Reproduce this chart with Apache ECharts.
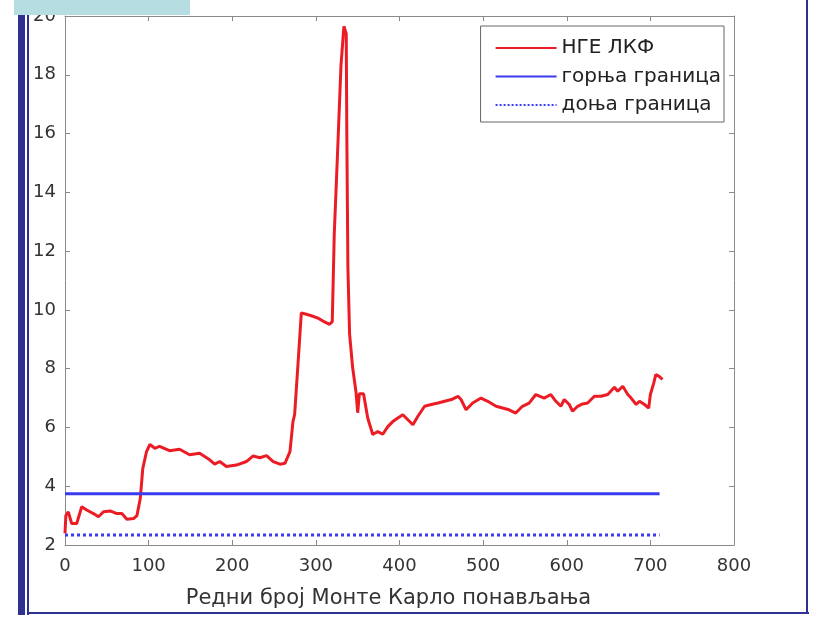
<!DOCTYPE html>
<html>
<head>
<meta charset="utf-8">
<script src="https://cdn.jsdelivr.net/npm/echarts@6/dist/echarts.min.js"></script>
<style>
html,body{margin:0;padding:0;background:#fff;}
#c{width:817px;height:620px;}
</style>
</head>
<body>
<div id="c"></div>
<script>
// ---- data ----
const xTicks = [0,100,200,300,400,500,600,700,800];
const yTicks = [2,4,6,8,10,12,14,16,18,20];
const seriesNames = ['НГЕ ЛКФ', 'горња граница', 'доња граница'];
const xAxisTitle = 'Редни број Монте Карло понављања';

const redX = [0,1,4,8,14,20,26,34,40,46,54,62,68,74,82,86,90,93,97.5,101.5,107.5,113,125,137,149,161,173,179,185,193,205,217,225,233,241,249,257,263,269,272.6,274.6,278.6,282.6,288.6,294.6,302.5,308.5,316.4,319.6,322,326,330,333.5,336.3,337,338.3,340.3,344,348,350,352,357,362,368,374,380,386,392,398,404,410,416,422,430,438,446,454,462,470,473.6,479.6,487.5,497.5,505.5,515.5,523.3,531,539,547,555,563,573,581,587,593,597,603,607,613,619,625,633,641,649,657,661,667,673,677,683,687,693,698,700,704,706.5,710.5,714.5];
const redY = [2.4,3.0,3.13,2.73,2.73,3.3,3.19,3.07,2.96,3.13,3.16,3.07,3.07,2.88,2.9,3.0,3.58,4.6,5.18,5.42,5.29,5.36,5.21,5.26,5.07,5.12,4.9,4.75,4.84,4.67,4.72,4.84,5.03,4.97,5.04,4.84,4.75,4.78,5.18,6.2,6.44,8.15,9.9,9.85,9.8,9.72,9.62,9.51,9.6,12.6,15.4,18.3,19.65,19.4,16.0,11.45,9.18,8.03,7.2,6.5,7.15,7.15,6.32,5.76,5.86,5.77,6.03,6.2,6.32,6.43,6.26,6.09,6.38,6.72,6.78,6.83,6.89,6.95,7.06,6.95,6.6,6.83,7.0,6.89,6.72,6.66,6.6,6.49,6.72,6.83,7.12,7.0,7.12,6.89,6.72,6.95,6.78,6.55,6.72,6.8,6.83,7.06,7.06,7.12,7.37,7.23,7.4,7.12,7.0,6.78,6.89,6.78,6.66,7.12,7.51,7.8,7.74,7.63];

const boundX = [0, 711];
const upperY = [3.74, 3.74];
const lowerY = [2.34, 2.34];

// ---- chart ----
const chart = echarts.init(document.getElementById('c'));
const pairs = (xs, ys) => xs.map((x, i) => [x, ys[i]]);
const axisGray = '#8a8a8a';
const FONT = 'DejaVu Sans, Liberation Sans, Arial, sans-serif';
const labelStyle = {color:'#333', fontSize:18, fontFamily:FONT};

const baseX = {
  type:'value', min:xTicks[0], max:xTicks[xTicks.length-1], interval:100,
  splitLine:{show:false},
  axisLine:{show:true, onZero:false, lineStyle:{color:axisGray, width:1}},
  axisTick:{show:true, inside:true, length:5, lineStyle:{color:axisGray}}
};
const baseY = {
  type:'value', min:yTicks[0], max:yTicks[yTicks.length-1], interval:2,
  splitLine:{show:false},
  axisLine:{show:true, onZero:false, lineStyle:{color:axisGray, width:1}},
  axisTick:{show:true, inside:true, length:5, lineStyle:{color:axisGray}}
};

chart.setOption({
  animation:false,
  backgroundColor:'#fff',
  grid:{left:65, right:83, top:16, bottom:75, show:false},
  xAxis:[
    Object.assign({}, baseX, {
      position:'bottom',
      axisLabel:Object.assign({margin:12}, labelStyle),
      name:xAxisTitle, nameLocation:'middle', nameGap:43,
      nameTextStyle:{color:'#333', fontSize:21, fontFamily:FONT, padding:[0,22,0,0]}
    }),
    Object.assign({}, baseX, {position:'top', axisLabel:{show:false}})
  ],
  yAxis:[
    Object.assign({}, baseY, {position:'left', axisLabel:Object.assign({margin:9}, labelStyle)}),
    Object.assign({}, baseY, {position:'right', axisLabel:{show:false}})
  ],
  legend:{
    orient:'vertical', right:93, top:26,
    backgroundColor:'#fff', borderColor:'#666', borderWidth:1,
    padding:[12,3,7,14], itemGap:8.5,
    itemWidth:61, itemHeight:14,
    itemStyle:{color:'transparent', borderColor:'transparent', borderWidth:0},
    textStyle:{color:'#222', fontSize:20, fontFamily:FONT},
    data:seriesNames
  },
  series:[
    {
      name:seriesNames[0], type:'line', data:pairs(redX, redY),
      showSymbol:false, symbol:'none',
      lineStyle:{color:'#ec1c24', width:3}, itemStyle:{color:'#ec1c24'}
    },
    {
      name:seriesNames[1], type:'line', data:pairs(boundX, upperY),
      showSymbol:false, symbol:'none',
      lineStyle:{color:'#3a3af0', width:3}, itemStyle:{color:'#3a3af0'}
    },
    {
      name:seriesNames[2], type:'line', data:pairs(boundX, lowerY),
      showSymbol:false, symbol:'none',
      lineStyle:{color:'#3a3af0', width:3, type:'dotted'}, itemStyle:{color:'#3a3af0'}
    }
  ],
  graphic:[
    {type:'rect', shape:{x:18, y:0, width:7, height:615}, style:{fill:'#2e3192'}, z:100},
    {type:'rect', shape:{x:27, y:0, width:2, height:615}, style:{fill:'#2e3192'}, z:100},
    {type:'rect', shape:{x:27, y:612, width:782, height:2}, style:{fill:'#2e3192'}, z:100},
    {type:'rect', shape:{x:806, y:0, width:2, height:614}, style:{fill:'#2e3192'}, z:100},
    {type:'rect', shape:{x:14, y:0, width:176, height:15}, style:{fill:'#b6dee2'}, z:101}
  ]
});
</script>
</body>
</html>
